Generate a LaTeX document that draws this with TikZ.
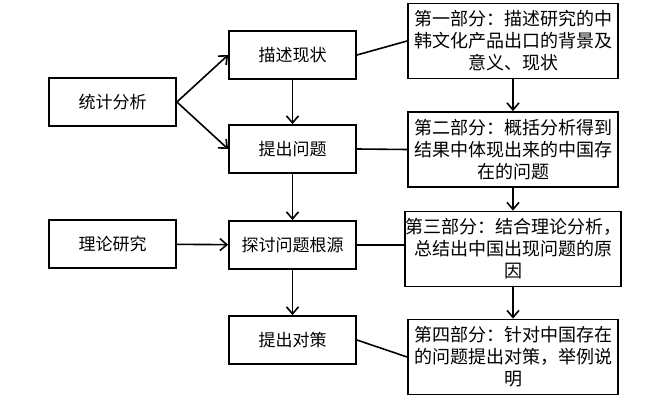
\documentclass[tikz,border=0pt]{standalone}
\usepackage{fontspec}
\setmainfont{Noto Sans CJK SC}
\usepackage{tikz}
\usetikzlibrary{arrows.meta, positioning}

\begin{document}
\begin{tikzpicture}[
		x=1pt, y=-1pt,
		etape/.style={rectangle, draw, line width=1.8pt, minimum width=127pt, minimum height=48pt, inner sep=0pt, font=\fontsize{17}{20}\selectfont},
		partie/.style={rectangle, draw, line width=1.8pt, minimum width=210pt, minimum height=75pt, inner sep=0pt, align=center, font=\fontsize{18}{22}\selectfont},
		lien/.style={line width=1.6pt},
		->,>={Straight Barb[length=7pt,width=12pt]} % fleches ouvertes
		]
		\useasboundingbox (0,0) rectangle (651,409);
		
		% Les methodes
		\node[etape] (stat) at (112.5, 102) {统计分析};
		\node[etape] (theo) at (112.5, 244) {理论研究};
		
		% Les etapes
		\node[etape] (desc) at (292.5, 55) {描述现状};
		\node[etape] (prob) at (292.5, 149) {提出问题};
		\node[etape] (rac) at (292.5, 245) {探讨问题根源};
		\node[etape] (cont) at (292.5, 340) {提出对策};
		
		% Les parties
		\node[partie] (P1) at (513, 41) {第一部分：描述研究的中\\韩文化产品出口的背景及\\意义、现状};
		\node[partie] (P2) at (513, 149.5) {第二部分：概括分析得到\\结果中体现出来的中国存\\在的问题};
		\node[partie] (P3) at (513, 249) {第三部分：结合理论分析，\\总结出中国出现问题的原\\因};
		\node[partie] (P4) at (513, 357) {第四部分：针对中国存在\\的问题提出对策，举例说\\明};
		
		% Les fleches
		\draw[lien] (stat.east) to (desc.west);
		\draw[lien] (stat.east) to (prob.west);
		\draw[lien] (theo) to (rac);
		\draw[lien] (desc) to (prob);
		\draw[lien] (prob) to (rac);
		\draw[lien] (rac) to (cont);
		\draw[lien] (P1) to (P2);
		\draw[lien] (P2) to (P3);
		\draw[lien] (P3) to (P4);
		
		% Les liens sans fleche
		\draw[lien, -] (desc.east) to (P1.west);
		\draw[lien, -] (prob.east) to (P2.west);
		\draw[lien, -] (rac.east) to (rac.east -| P3.west);
		\draw[lien, -] (cont.east) to (P4.west);
	\end{tikzpicture}
\end{document}
